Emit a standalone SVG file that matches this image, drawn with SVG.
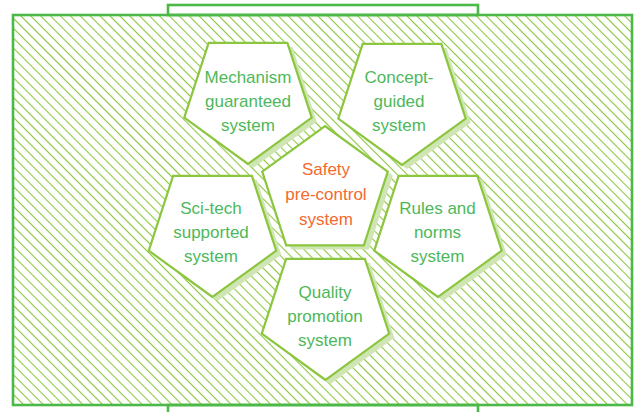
<svg xmlns="http://www.w3.org/2000/svg" xmlns:xlink="http://www.w3.org/1999/xlink" width="635" height="412" viewBox="0 0 635 412">
  <defs>
    <pattern id="hatch" patternUnits="userSpaceOnUse" width="7" height="7" patternTransform="rotate(-45)">
      <line x1="3.5" y1="0" x2="3.5" y2="7" stroke="#8cc63f" stroke-width="1.1"/>
    </pattern>
    <polygon id="pdown" points="0,67 -63.72,20.7 -39.38,-54.2 39.38,-54.2 63.72,20.7"/>
    <polygon id="pup" points="0,-66 62.77,-20.4 38.79,53.4 -38.79,53.4 -62.77,-20.4"/>
  </defs>
  <style>
    .frame { fill: none; stroke: #4cb848; stroke-width: 2.6; }
    .shadow { fill: #cfe6b4; stroke: none; }
    .pent { fill: #ffffff; stroke: #8cc63f; stroke-width: 2.2; }
    .lbl { font-family: "Liberation Sans", Arial, sans-serif; font-size: 17px; fill: #4db85a; text-anchor: middle; }
    .lbl-c { fill: #f26a30; }
  </style>
  <rect width="635" height="412" fill="#ffffff"/>
  <g id="frame">
    <rect class="frame" x="168" y="5" width="310" height="10" fill="#ffffff"/>
    <rect class="frame" x="168" y="405" width="310" height="20"/>
    <rect x="13" y="15" width="619" height="390" fill="url(#hatch)" stroke="#4cb848" stroke-width="2.6"/>
  </g>
  <g id="connectors"/>
  <g id="mechanism">
    <use href="#pdown" class="shadow" transform="translate(253,101)"/>
    <use href="#pdown" class="pent" transform="translate(248,97)"/>
    <text class="lbl" x="248" y="83">Mechanism</text>
    <text class="lbl" x="248" y="107">guaranteed</text>
    <text class="lbl" x="248" y="131">system</text>
  </g>
  <g id="concept">
    <use href="#pdown" class="shadow" transform="translate(407,102)"/>
    <use href="#pdown" class="pent" transform="translate(402,98)"/>
    <text class="lbl" x="399" y="83">Concept-</text>
    <text class="lbl" x="399" y="107">guided</text>
    <text class="lbl" x="399" y="131">system</text>
  </g>
  <g id="scitech">
    <use href="#pdown" class="shadow" transform="translate(217.5,234)"/>
    <use href="#pdown" class="pent" transform="translate(212.5,230)"/>
    <text class="lbl" x="211" y="214">Sci-tech</text>
    <text class="lbl" x="211" y="238">supported</text>
    <text class="lbl" x="211" y="262">system</text>
  </g>
  <g id="rules">
    <use href="#pdown" class="shadow" transform="translate(443,234)"/>
    <use href="#pdown" class="pent" transform="translate(438,230)"/>
    <text class="lbl" x="437.5" y="214">Rules and</text>
    <text class="lbl" x="437.5" y="238">norms</text>
    <text class="lbl" x="437.5" y="262">system</text>
  </g>
  <g id="quality">
    <use href="#pdown" class="shadow" transform="translate(330.5,317)"/>
    <use href="#pdown" class="pent" transform="translate(325.5,313)"/>
    <text class="lbl" x="325" y="298">Quality</text>
    <text class="lbl" x="325" y="322">promotion</text>
    <text class="lbl" x="325" y="346">system</text>
  </g>
  <g id="safety">
    <use href="#pup" class="shadow" transform="translate(330,196)"/>
    <use href="#pup" class="pent" transform="translate(325,192)"/>
    <text class="lbl lbl-c" x="326" y="175">Safety</text>
    <text class="lbl lbl-c" x="326" y="200">pre-control</text>
    <text class="lbl lbl-c" x="326" y="225">system</text>
  </g>
</svg>
